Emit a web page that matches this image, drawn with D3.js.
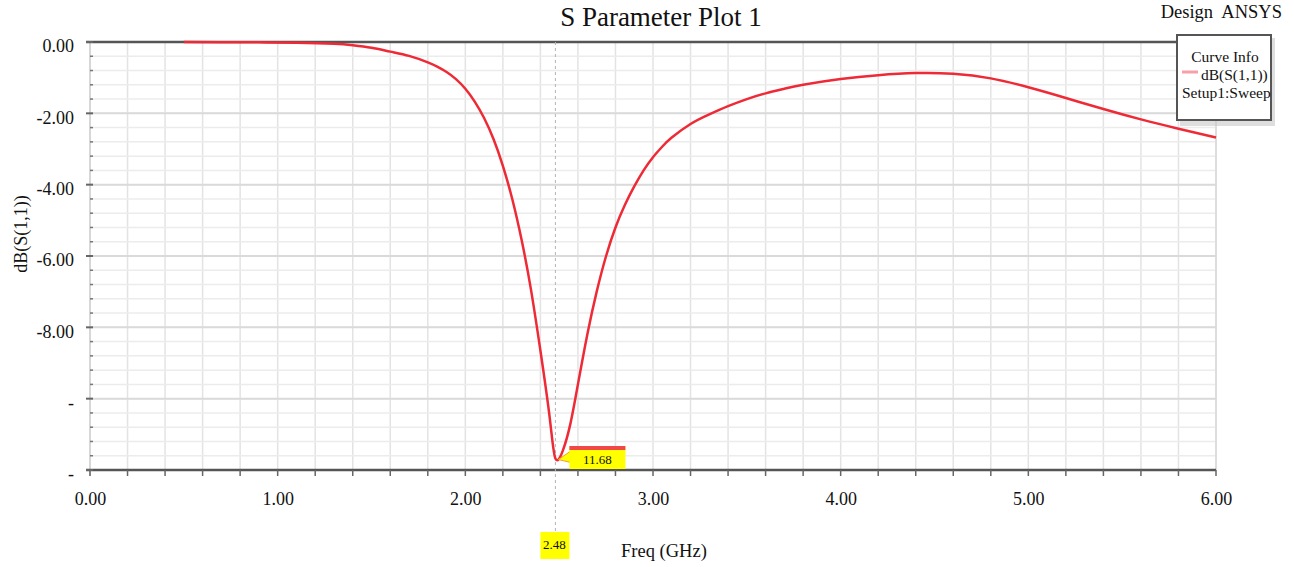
<!DOCTYPE html>
<html>
<head>
<meta charset="utf-8">
<script src="https://cdn.jsdelivr.net/npm/d3@7"></script>
<style>
  body { margin: 0; background: #fff; }
  svg text { font-family: "Liberation Serif", "Times New Roman", serif; fill: #111; }
</style>
</head>
<body>
<div id="chart"></div>
<script>
// S11 sweep
const freqGHz = [0.5, 0.7, 0.9, 1.1, 1.3, 1.4, 1.5, 1.6, 1.7, 1.8, 1.85, 1.9, 1.95, 2.0, 2.05,
  2.1, 2.15, 2.2, 2.25, 2.3, 2.35, 2.4, 2.45, 2.48, 2.52, 2.56, 2.6, 2.65, 2.7, 2.75, 2.8, 2.85,
  2.9, 2.95, 3.0, 3.05, 3.1, 3.2, 3.3, 3.4, 3.5, 3.6, 3.7, 3.8, 4.0, 4.2, 4.4, 4.6, 4.8, 5.0,
  5.2, 5.4, 5.6, 5.8, 6.0]
const s11dB = [0.0, -0.005, -0.01, -0.02, -0.05, -0.09, -0.16, -0.27, -0.39, -0.57, -0.69, -0.84,
  -1.04, -1.31, -1.67, -2.13, -2.72, -3.47, -4.4, -5.55, -6.95, -8.65, -10.55, -11.68, -11.45,
  -10.7, -9.6, -8.2, -7.0, -6.0, -5.2, -4.57, -4.05, -3.6, -3.23, -2.93, -2.68, -2.3, -2.03,
  -1.8, -1.6, -1.44, -1.31, -1.2, -1.04, -0.93, -0.87, -0.89, -1.02, -1.27, -1.57, -1.88,
  -2.17, -2.43, -2.68]

const xTicks = [0, 1, 2, 3, 4, 5, 6]
const yTicks = [0, -2, -4, -6, -8, -10, -12]
const markerFreq = 2.48
const markerValue = -11.68

const width = 1294, height = 567
const serif = "'Liberation Serif', 'Times New Roman', serif"

const x = d3.scaleLinear().domain([0, 6]).range([90, 1216])
const y = d3.scaleLinear().domain([0, -12]).range([42, 470])

const svg = d3.select("#chart").append("svg")
    .attr("width", width)
    .attr("height", height)

// grid: minor every 0.2 GHz / 0.4 dB, major at labelled ticks
const grid = svg.append("g")
grid.selectAll("line.vminor")
  .data(d3.range(0, 6.001, 0.2))
  .enter().append("line")
    .attr("x1", d => x(d)).attr("x2", d => x(d))
    .attr("y1", y(0)).attr("y2", y(-12))
    .attr("stroke", "#e3e3e3").attr("stroke-width", 1.5)
grid.selectAll("line.hminor")
  .data(d3.range(0, -12.001, -0.4))
  .enter().append("line")
    .attr("x1", x(0)).attr("x2", x(6))
    .attr("y1", d => y(d)).attr("y2", d => y(d))
    .attr("stroke", "#ececec").attr("stroke-width", 1.5)
grid.selectAll("line.hmajor")
  .data(yTicks)
  .enter().append("line")
    .attr("x1", x(0)).attr("x2", x(6))
    .attr("y1", d => y(d)).attr("y2", d => y(d))
    .attr("stroke", "#dadada").attr("stroke-width", 2)

// frame
svg.append("line")
  .attr("x1", x(6)).attr("x2", x(6)).attr("y1", y(0)).attr("y2", y(-12))
  .attr("stroke", "#d8d8d8").attr("stroke-width", 1.5)
svg.append("line")
  .attr("x1", x(0)).attr("x2", x(0)).attr("y1", y(0)).attr("y2", y(-12) + 6)
  .attr("stroke", "#d0d0d0").attr("stroke-width", 1.5)
svg.append("line")
  .attr("x1", x(0) - 4).attr("x2", 1178).attr("y1", y(0)).attr("y2", y(0))
  .attr("stroke", "#555").attr("stroke-width", 2.5)
svg.append("line")
  .attr("x1", x(0) - 4).attr("x2", x(6)).attr("y1", y(-12)).attr("y2", y(-12))
  .attr("stroke", "#555").attr("stroke-width", 2.5)

// y axis ticks
const yAxis = d3.axisLeft(y)
    .tickValues(yTicks)
    .tickSize(0)
    .tickPadding(16)
    .tickFormat(d => d <= -10 ? "-" : d.toFixed(2))
const gy = svg.append("g").attr("transform", "translate(" + x(0) + ",4)").call(yAxis)
gy.select(".domain").remove()
gy.selectAll("text").style("font-size", "18px").style("font-family", serif).style("fill", "#111")

svg.selectAll("line.ymaj")
  .data(yTicks)
  .enter().append("line")
    .attr("x1", x(0) - 4).attr("x2", x(0) + 3)
    .attr("y1", d => y(d)).attr("y2", d => y(d))
    .attr("stroke", "#666").attr("stroke-width", 2)
svg.selectAll("line.ymin")
  .data(d3.range(0, -12.001, -0.4).filter(d => Math.abs(d / 2 - Math.round(d / 2)) > 0.01))
  .enter().append("line")
    .attr("x1", x(0)).attr("x2", x(0) + 3)
    .attr("y1", d => y(d)).attr("y2", d => y(d))
    .attr("stroke", "#777").attr("stroke-width", 1.5)

// x axis
const xAxis = d3.axisBottom(x)
    .tickValues(xTicks)
    .tickSize(0)
    .tickPadding(22)
    .tickFormat(d => d.toFixed(2))
const gx = svg.append("g").attr("transform", "translate(0," + y(-12) + ")").call(xAxis)
gx.select(".domain").remove()
gx.selectAll("text").style("font-size", "18px").style("font-family", serif).style("fill", "#111")

svg.selectAll("line.xtick")
  .data(d3.range(0, 6.001, 0.2))
  .enter().append("line")
    .attr("x1", d => x(d)).attr("x2", d => x(d))
    .attr("y1", y(-12)).attr("y2", y(-12) + 6)
    .attr("stroke", "#666").attr("stroke-width", 1.5)

// marker line
svg.append("line")
  .attr("x1", x(markerFreq)).attr("x2", x(markerFreq))
  .attr("y1", y(0)).attr("y2", 532)
  .attr("stroke", "#b5b5b5").attr("stroke-width", 1)
  .attr("stroke-dasharray", "3,3")

// curve
const line = d3.line()
    .x((d, i) => x(freqGHz[i]))
    .y(d => y(d))
    .curve(d3.curveNatural)
svg.append("path")
  .datum(s11dB)
  .attr("d", line)
  .attr("fill", "none")
  .attr("stroke", "#ee2a36")
  .attr("stroke-width", 2.5)

// value marker callout
const mx = x(markerFreq), my = y(markerValue)
svg.append("path")
  .attr("d", "M" + (mx + 3) + "," + (my + 1) + " L" + (mx + 16) + "," + (my - 8) + " L" + (mx + 16) + "," + (my + 4) + " Z")
  .attr("fill", "#ffff00").attr("stroke", "#f0a030").attr("stroke-width", 1)
svg.append("rect")
  .attr("x", mx + 14).attr("y", 446).attr("width", 56).attr("height", 23)
  .attr("fill", "#ffff00")
svg.append("rect")
  .attr("x", mx + 14).attr("y", 446).attr("width", 56).attr("height", 4)
  .attr("fill", "#f04848")
svg.append("text")
  .attr("x", mx + 42).attr("y", 464)
  .attr("text-anchor", "middle")
  .style("font-size", "13px")
  .text(Math.abs(markerValue).toFixed(2))

// freq marker label
svg.append("rect")
  .attr("x", mx - 15).attr("y", 532).attr("width", 29).attr("height", 27)
  .attr("fill", "#ffff00")
svg.append("text")
  .attr("x", mx - 1).attr("y", 549)
  .attr("text-anchor", "middle")
  .style("font-size", "13px")
  .text(markerFreq.toFixed(2))

// titles
svg.append("text")
  .attr("x", 661).attr("y", 26)
  .attr("text-anchor", "middle")
  .style("font-size", "27px")
  .text("S Parameter Plot 1")
svg.append("text")
  .attr("x", 1282).attr("y", 18)
  .attr("text-anchor", "end")
  .style("font-size", "18.5px")
  .style("white-space", "pre")
  .text("Design  ANSYS")
svg.append("text")
  .attr("x", 621).attr("y", 557)
  .style("font-size", "18.5px")
  .text("Freq (GHz)")
svg.append("text")
  .attr("transform", "translate(27,234) rotate(-90)")
  .attr("text-anchor", "middle")
  .style("font-size", "18px")
  .text("dB(S(1,1))")

// legend box
const legend = svg.append("g").attr("transform", "translate(1177,35)")
legend.append("rect")
  .attr("x", 3).attr("y", 3).attr("width", 95).attr("height", 88)
  .attr("fill", "#c8c8c8").attr("opacity", 0.6)
legend.append("rect")
  .attr("x", 0).attr("y", 0).attr("width", 94).attr("height", 85)
  .attr("fill", "#fff").attr("stroke", "#555").attr("stroke-width", 2)
legend.append("text").attr("x", 48).attr("y", 27).attr("text-anchor", "middle")
  .style("font-size", "15.5px").text("Curve Info")
legend.append("line").attr("x1", 5).attr("x2", 21).attr("y1", 37).attr("y2", 37)
  .attr("stroke", "#f7a0a8").attr("stroke-width", 3)
legend.append("text").attr("x", 24).attr("y", 45)
  .style("font-size", "15.5px").text("dB(S(1,1))")
legend.append("text").attr("x", 5).attr("y", 63)
  .style("font-size", "15.5px").text("Setup1:Sweep")
</script>
</body>
</html>
